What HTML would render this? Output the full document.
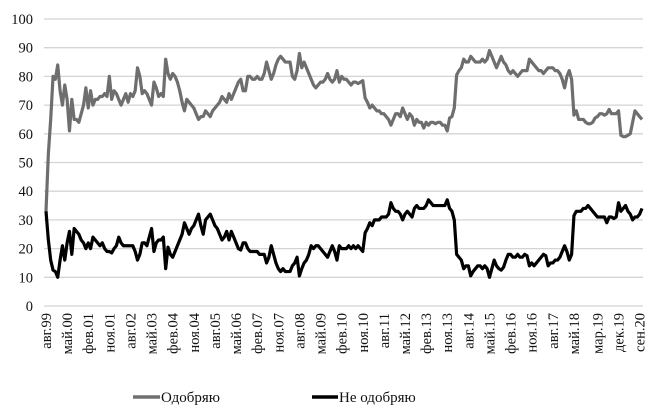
<!DOCTYPE html>
<html><head><meta charset="utf-8"><style>
html,body{margin:0;padding:0;background:#fff;}
svg{display:block;font-family:"Liberation Serif",serif;}
</style></head><body>
<svg id="chart" width="650" height="418" viewBox="0 0 650 418" xmlns="http://www.w3.org/2000/svg">
<g id="grid"></g>
<g id="yticks"></g>
<g id="xticks"></g>
<g id="series"></g>
<g>
  <g>
    <line x1="133" y1="397" x2="160" y2="397" stroke="#707070" stroke-width="3.5"/>
    <text x="161" y="402" font-size="15" fill="#111">Одобряю</text>
  </g>
  <g>
    <line x1="312" y1="397" x2="338" y2="397" stroke="#000" stroke-width="3.5"/>
    <text x="339" y="402" font-size="15" fill="#111">Не одобряю</text>
  </g>
</g>
</svg>
<script>
const yTicks=[0,10,20,30,40,50,60,70,80,90,100];
const xLabels=["авг.99","май.00","фев.01","ноя.01","авг.02","май.03","фев.04","ноя.04","авг.05","май.06","фев.07","ноя.07","авг.08","май.09","фев.10","ноя.10","авг.11","май.12","фев.13","ноя.13","авг.14","май.15","фев.16","ноя.16","авг.17","май.18","мар.19","дек.19","сен.20"];
const xLabelIdx=[0,9,18,27,36,45,54,63,72,81,90,99,108,117,126,135,144,153,162,171,180,189,198,207,216,225,235,244,253];
const approve=[33,53,65,80,79,84,75,70,77,72,61,72,65,65,64,67,70,76,69,75,70,72,72,73,73,74,73,80,72,75,74,72,70,72,74,71,74,73,75,83,80,74,75,74,72,70,78,76,73,74,73,86,81,79,81,80,78,75,71,68,72,71,70,69,67,65,66,66,68,67,66,68,69,70,71,73,72,71,74,72,74,76,78,79,75,75,80,80,79,79,80,79,79,81,85,82,79,81,84,86,87,86,85,85,85,80,79,82,88,83,85,83,81,79,77,76,77,78,78,79,81,79,78,79,82,78,80,79,79,78,77,78,78,77.5,78,78.5,72.5,71,69,70,69,68,68,67,67,66,65,63,65,67,67,66,69,67,65,67,66,63,65,64,64,62,64,63,64,64,63.5,64,64,63,63,61,65.5,66,69,80.5,82,83,86,85,85,87,86,85,85,85,86,85,86,89,87,85,83,85,87,85,84,82,81,82,81,80,81,82,82,82,86,85,84,83,82,82,81,82,83,83,83,82,82,81,79,76,80,82,79,66.5,68,65,65,65,64,63.5,63.5,64,65.5,66,67,67,66.5,67,68.5,67,67,67,68,59.5,59,59,59.5,60,64,68,67,66,65];
const disapprove=[33,23,16,12.5,12,10,16,21,16,22,26,18,27,26,25,23,22,20,22,20,24,23,22,21,22,20,19,19,18.5,20,21,24,22,21,21,21,21,21,19,16,18,22,22,21,24,27,19,22,23,23,24,13,20.5,18,17,19,21,23,25,29,27,25,27,28,30,32,28,25,30,31,32,30,28,27,25,23,24,26,23,26,24,22,20,19.5,22,22,20,19,19,19,19,18,18,18,15,17,21,18,15,13,12,13,12,12,12,14,15,17,10.5,13,15,16,18,21,20,21,21,20,19,18,17,19,21,19,16,21,20,20,20,21,20,21,20,21,20,19,25.5,27,29,28,30,30,30,31,31,31,32,36,34,33,33,32,30,32,33,32,31,34,35,34,34,34,35,37,36,35,35,35,35,35,35,37,34,33,30,18,17,16,13,14,14,10.5,12,13,14,14,13,14,13,10,13,16,14,13,12.5,13.5,16,18,18,17,17,18,17,17,18,17.5,14,15,14,15,16,17,18,17.5,14,15,15,16,16,17,19,21,19,16,18,31.5,33,33,33,34,34,35,34,33,32,31,31,31,31,29,31,31,30.5,31,36,33,34,35,33,32,30,31,31,32,34];

const NS="http://www.w3.org/2000/svg";
const X0=46,X1=642,Y0=306,Y100=19,N=approve.length;
function xs(i){return X0+(X1-X0)*i/(N-1);}
function ys(v){return Y0-(Y0-Y100)*v/100;}
const grid=document.getElementById('grid'),yt=document.getElementById('yticks'),xt=document.getElementById('xticks'),ser=document.getElementById('series');
yTicks.forEach(t=>{
  const l=document.createElementNS(NS,'line');
  
  
  l.setAttribute('x1',X0-2);l.setAttribute('x2',X1+1);l.setAttribute('y1',ys(t));l.setAttribute('y2',ys(t));
  l.setAttribute('stroke','#d4d4d4');l.setAttribute('stroke-width','1.3');
  grid.appendChild(l);
  const tx=document.createElementNS(NS,'text');
  
  
  tx.setAttribute('x',33);tx.setAttribute('y',ys(t)+5);tx.setAttribute('text-anchor','end');tx.setAttribute('font-size','14.5');tx.setAttribute('fill','#111');
  tx.textContent=t;yt.appendChild(tx);
});
xLabels.forEach((lab,k)=>{
  const x=xs(xLabelIdx[k])+5,y=313;
  const tx=document.createElementNS(NS,'text');
  
  
  tx.setAttribute('x',x);tx.setAttribute('y',y);tx.setAttribute('text-anchor','end');tx.setAttribute('font-size','14.5');tx.setAttribute('fill','#111');
  tx.setAttribute('transform','rotate(-90 '+x+' '+y+')');
  tx.textContent=lab;xt.appendChild(tx);
});
function line(arr,color,name){
  const p=document.createElementNS(NS,'path');
  
  
  p.setAttribute('d',arr.map((v,i)=>(i?'L':'M')+xs(i).toFixed(2)+' '+ys(v).toFixed(2)).join(''));
  p.setAttribute('fill','none');p.setAttribute('stroke',color);p.setAttribute('stroke-width','3.2');p.setAttribute('stroke-linejoin','round');
  ser.appendChild(p);
}
line(approve,'#6e6e6e','approve-line');
line(disapprove,'#000','disapprove-line');
</script>
</body></html>
